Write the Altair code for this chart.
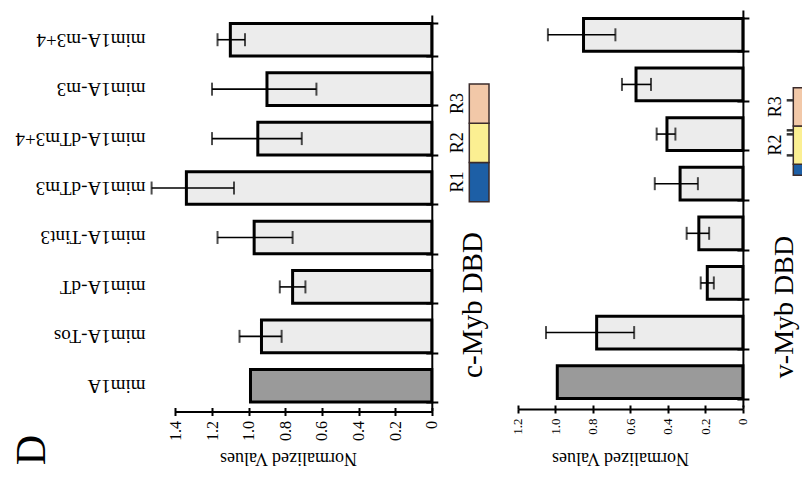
import altair as alt
import pandas as pd

# ---------------- data ----------------
categories = ["mim1A-m3+4", "mim1A-m3", "mim1A-dTm3+4", "mim1A-dTm3",
              "mim1A-Tint3", "mim1A-dT", "mim1A-Tos", "mim1A"]
kind = ["variant"] * 7 + ["control"]

cmyb_mean = [1.10, 0.90, 0.95, 1.34, 0.97, 0.76, 0.93, 0.99]
cmyb_lo = [1.02, 0.63, 0.71, 1.08, 0.76, 0.69, 0.82, None]
cmyb_hi = [1.17, 1.20, 1.20, 1.53, 1.17, 0.83, 1.05, None]

vmyb_mean = [0.85, 0.57, 0.405, 0.335, 0.235, 0.19, 0.78, 0.99]
vmyb_lo = [0.68, 0.49, 0.36, 0.24, 0.18, 0.155, 0.58, None]
vmyb_hi = [1.04, 0.645, 0.46, 0.47, 0.30, 0.225, 1.05, None]

cmyb_ticks = [0, 0.2, 0.4, 0.6, 0.8, 1.0, 1.2, 1.4]
vmyb_ticks = [0, 0.2, 0.4, 0.6, 0.8, 1.0, 1.2]

seg_names = ["R1", "R2", "R3"]
seg_colors = ["#1d5fa6", "#fbef92", "#f2c8a8"]
cmyb_seg_start = [0, 1, 2]
cmyb_seg_end = [1, 2, 3]
vmyb_seg_start = [0.71, 1, 2]
vmyb_seg_end = [1, 2, 3]
vmyb_labels = ["R2", "R3"]
vmyb_label_pos = [1.5, 2.5]
vmyb_mutations = [1.23, 1.78, 1.885, 2.67]

panel_titles = ["c-Myb DBD", "v-Myb DBD"]
figure_letter = ["D"]
value_title = "Normalized Values"

df_c = pd.DataFrame({"category": categories, "kind": kind,
                     "mean": cmyb_mean, "lo": cmyb_lo, "hi": cmyb_hi})
df_v = pd.DataFrame({"category": categories, "kind": kind,
                     "mean": vmyb_mean, "lo": vmyb_lo, "hi": vmyb_hi})
seg_c = pd.DataFrame({"seg": seg_names, "start": cmyb_seg_start, "end": cmyb_seg_end})
seg_v = pd.DataFrame({"seg": seg_names, "start": vmyb_seg_start, "end": vmyb_seg_end})
lab_v = pd.DataFrame({"seg": vmyb_labels, "pos": vmyb_label_pos})
mut_v = pd.DataFrame({"pos": vmyb_mutations})

# ---------------- layout ----------------
W, H = 794, 461
FONT = "Liberation Serif"

yc = alt.Scale(domain=categories, range=[7, 402.5], paddingInner=0.34, paddingOuter=0.17)
yv = alt.Scale(domain=categories, range=[2, 399], paddingInner=0.34, paddingOuter=0.17)
xc = alt.Scale(domain=[0, 1.4], range=[423.8, 167.4], nice=False)
xv = alt.Scale(domain=[0, 1.2], range=[734.9, 509.9], nice=False)
fill_scale = alt.Scale(domain=["variant", "control"], range=["#ececec", "#9a9a9a"])
seg_scale = alt.Scale(domain=seg_names, range=seg_colors)
segy_c = alt.Scale(domain=[0, 3], range=[193.7, 76])
segy_v = alt.Scale(domain=[0, 3], range=[194.4, 79.7])

label_expr = "datum.value == 0 ? '0' : format(datum.value, '.1f')"


def value_axis(offset, ticks, font_size, title_x, title_y):
    return alt.Axis(orient="bottom", offset=offset, values=ticks, labelExpr=label_expr,
                    labelAngle=270, labelAlign="right", labelBaseline="middle",
                    labelFont=FONT, labelFontSize=font_size, labelColor="black",
                    labelPadding=5, labelFlush=False, labelOverlap=False,
                    tickSize=4, tickWidth=2, tickColor="black",
                    domainColor="black", domainWidth=2, grid=False, zindex=1,
                    title=value_title, titleFont=FONT, titleFontSize=18,
                    titleFontWeight="normal", titleColor="black", titleAngle=180,
                    titleX=title_x, titleY=title_y, titleAlign="center",
                    titleBaseline="middle")


def inner_value_ticks(offset, ticks):
    return alt.Axis(orient="bottom", offset=offset, values=ticks, labels=False,
                    domain=False, tickSize=4, tickWidth=2, tickColor="black",
                    grid=False, title=None, zindex=1)


def cat_line_axis(pos):
    return alt.Axis(orient="left", offset=-pos, labels=False, domain=True,
                    domainColor="black", domainWidth=2, ticks=True, tickSize=6,
                    tickWidth=2, tickColor="black", tickBand="extent",
                    grid=False, title=None, zindex=1)


def cat_right_ticks(pos):
    return alt.Axis(orient="right", offset=pos - W, labels=False, domain=False,
                    ticks=True, tickSize=6, tickWidth=2, tickColor="black",
                    tickBand="extent", grid=False, title=None, zindex=1)


cat_label_axis = alt.Axis(orient="left", offset=-137, domain=False, ticks=False,
                          tickSize=0, labelAngle=180, labelAlign="left",
                          labelBaseline="middle", labelPadding=0, labelFont=FONT,
                          labelFontSize=19, labelColor="black", labelLimit=0,
                          labelOverlap=False, grid=False, title=None)


def panel(df, xs, ys, val_axis, inner_axis, line_pos, with_labels):
    bars = alt.Chart(df).mark_bar(stroke="black", strokeWidth=3).encode(
        x=alt.X("mean:Q", scale=xs, axis=val_axis),
        y=alt.Y("category:N", scale=ys, axis=cat_label_axis if with_labels else None),
        fill=alt.Fill("kind:N", scale=fill_scale, legend=None),
    )
    err = alt.Chart(df).mark_rule(color="black", strokeWidth=1.6).encode(
        x=alt.X("lo:Q", scale=xs, axis=inner_axis),
        x2="hi:Q",
        y=alt.Y("category:N", scale=ys, axis=cat_line_axis(line_pos)),
    )
    caps = alt.Chart(df).transform_fold(["lo", "hi"], as_=["end", "value"]).mark_tick(
        color="black", thickness=2, size=13).encode(
        x=alt.X("value:Q", scale=xs, axis=None),
        y=alt.Y("category:N", scale=ys, axis=cat_right_ticks(line_pos)),
    )
    return [bars, err, caps]


layers = []
layers += panel(df_c, xc, yc, value_axis(403.5 - H, cmyb_ticks, 16, 280, 46),
                inner_value_ticks(399.5 - H, cmyb_ticks), 423.8, True)
layers += panel(df_v, xv, yv, value_axis(401 - H, vmyb_ticks, 13, 612, 48.5),
                inner_value_ticks(397 - H, vmyb_ticks), 734.9, False)

# domain diagrams
dom_c = alt.Chart(seg_c).mark_rect(stroke="#3b2b2b", strokeWidth=1.5).encode(
    x=alt.value(461.3), x2=alt.value(481),
    y=alt.Y("start:Q", scale=segy_c, axis=None), y2="end:Q",
    fill=alt.Fill("seg:N", scale=seg_scale, legend=None),
)
dom_c_lab = alt.Chart(seg_c).transform_calculate(mid="(datum.start + datum.end) / 2").mark_text(
    angle=270, font=FONT, fontSize=18, color="black", align="center", baseline="middle").encode(
    x=alt.value(449.5),
    y=alt.Y("mid:Q", scale=segy_c, axis=None),
    text="seg:N",
)
dom_v = alt.Chart(seg_v).mark_rect(stroke="#3b2b2b", strokeWidth=1.5).encode(
    x=alt.value(785.3), x2=alt.value(812),
    y=alt.Y("start:Q", scale=segy_v, axis=None), y2="end:Q",
    fill=alt.Fill("seg:N", scale=seg_scale, legend=None),
)
dom_v_lab = alt.Chart(lab_v).mark_text(
    angle=270, font=FONT, fontSize=18, color="black", align="center", baseline="middle").encode(
    x=alt.value(768),
    y=alt.Y("pos:Q", scale=segy_v, axis=None),
    text="seg:N",
)
dom_v_mut = alt.Chart(mut_v).mark_rule(color="#333333", strokeWidth=2.5).encode(
    x=alt.value(778.7), x2=alt.value(785.3),
    y=alt.Y("pos:Q", scale=segy_v, axis=None),
)

titles_df = pd.DataFrame({"t": panel_titles})
title_c = alt.Chart(titles_df).transform_filter(alt.datum.t == panel_titles[0]).mark_text(
    angle=270, font=FONT, fontSize=29, color="black", align="center", baseline="middle").encode(
    x=alt.value(465), y=alt.value(297), text="t:N")
title_v = alt.Chart(titles_df).transform_filter(alt.datum.t == panel_titles[1]).mark_text(
    angle=270, font=FONT, fontSize=28, color="black", align="center", baseline="middle").encode(
    x=alt.value(777), y=alt.value(299), text="t:N")
letter = alt.Chart(pd.DataFrame({"t": figure_letter})).mark_text(
    angle=270, font=FONT, fontSize=42, color="black", align="center", baseline="middle").encode(
    x=alt.value(24), y=alt.value(442), text="t:N")

layers += [dom_c, dom_c_lab, dom_v, dom_v_lab, dom_v_mut, title_c, title_v, letter]

chart = alt.layer(*layers).resolve_scale(
    x="independent", y="independent", fill="independent"
).resolve_axis(
    x="independent", y="independent"
).properties(
    width=W, height=H,
    autosize=alt.AutoSizeParams(type="none"),
    padding={"left": 0, "right": 0, "top": 0, "bottom": 0},
).configure(font=FONT).configure_view(stroke=None)

chart.save("out.html", embed_options={"renderer": "svg", "actions": False})
